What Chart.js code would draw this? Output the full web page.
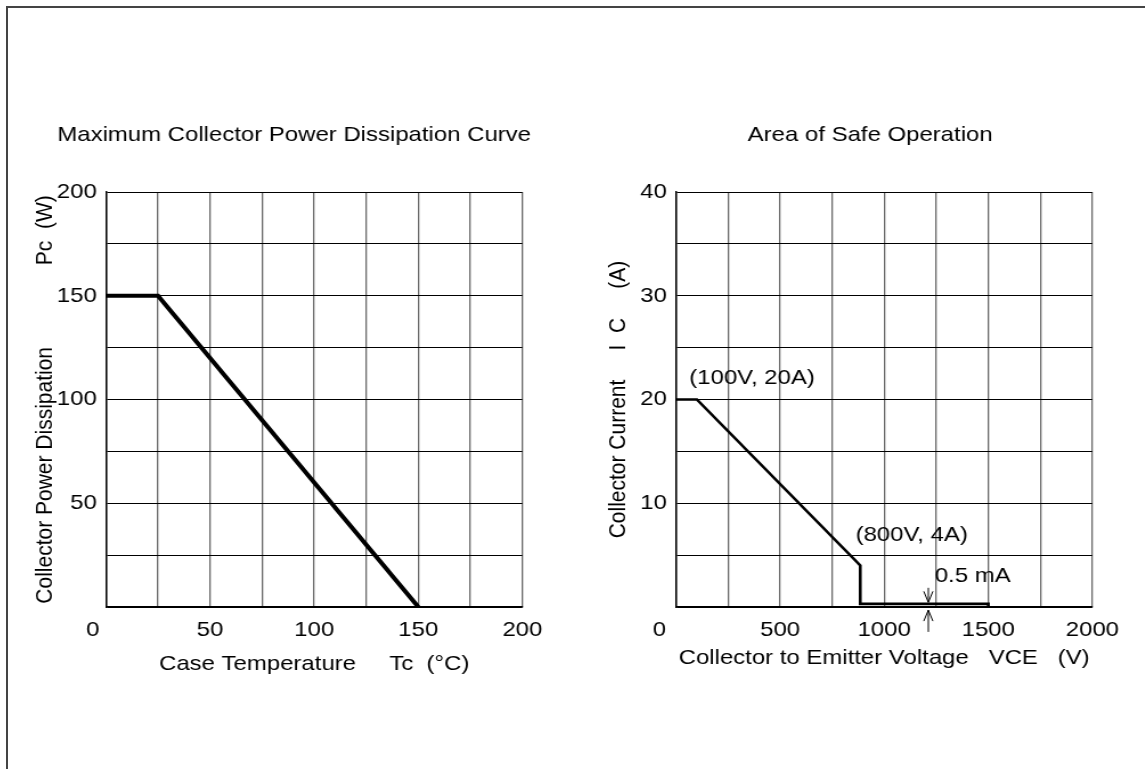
<!DOCTYPE html>
<html>
<head>
<meta charset="utf-8">
<title>Power Dissipation / Safe Operation</title>
<script src="https://cdn.jsdelivr.net/npm/chart.js@4.4.1/dist/chart.umd.min.js"></script>
<style>
    html, body { margin: 0; padding: 0; background: #fff; overflow: hidden; }
    body { width: 1145px; height: 769px; position: relative; }
    .moldura {
        position: absolute; left: 6px; top: 6px; right: -10px; bottom: -10px;
        border-left: 2px solid #444; border-top: 2px solid #444;
    }
    /* the source drawing is a little wider than tall, so both charts are stretched */
    .caixa { position: absolute; top: 100px; height: 600px; transform: scaleX(1.14); transform-origin: 0 0; }
    #caixaPc { left: 20px; width: 481px; }
    #caixaSoa { left: 600px; width: 474px; }
</style>
</head>
<body>
<div class="moldura"></div>
<div class="caixa" id="caixaPc"><canvas id="graficoPc"></canvas></div>
<div class="caixa" id="caixaSoa"><canvas id="graficoSoa"></canvas></div>
<script>
/* ==========================================================================
   1. DADOS
   ========================================================================== */
// Maximum collector power dissipation: case temperature (°C) -> Pc (W)
const pcTemp = [0, 25, 150];
const pcPower = [150, 150, 0];
const tempTickLabels = [0, 50, 100, 150, 200];
const powerTickLabels = [50, 100, 150, 200];

// Area of safe operation: VCE (V) -> IC (A)
const soaVolt = [0, 100, 885, 885, 1500, 1500];
const soaCurr = [20, 20, 4, 0.3, 0.3, 0];
const voltTickLabels = [0, 500, 1000, 1500, 2000];
const currTickLabels = [10, 20, 30, 40];

// notes written inside the safe-operation chart (value space)
const soaNotes = [
    { texto: '(100V, 20A)', v: 365, a: 22.1 },
    { texto: '(800V, 4A)', v: 1132, a: 6.9 },
    { texto: '0.5 mA', v: 1425, a: 3.0 }
];
const setaVolt = 1212; // where the 0.5 mA gap arrows sit

/* ==========================================================================
   2. ESTILO COMUM
   ========================================================================== */
Chart.defaults.font.family = '"Liberation Sans", Arial, sans-serif';
Chart.defaults.font.size = 21;
Chart.defaults.color = '#000';

const fonte = { size: 21, weight: 'normal' };

function rotulo(lista, espacosZero) {
    // the "0" on the x axis sits left of the axis in the source, so pad it
    return v => {
        if (!lista.includes(v)) return '';
        if (v === 0 && espacosZero) return '0' + ' '.repeat(espacosZero);
        return String(v);
    };
}

function opcoes(cfg) {
    return {
        responsive: true,
        maintainAspectRatio: false,
        animation: false,
        layout: { padding: 0 },
        plugins: {
            legend: { display: false },
            tooltip: { enabled: false },
            title: {
                display: true,
                text: cfg.titulo,
                color: '#000',
                font: fonte,
                padding: { top: 22.4, bottom: 44.4 }
            }
        },
        scales: {
            x: {
                type: 'linear', min: cfg.xMin, max: cfg.xMax,
                afterFit: s => { s.height = 93; },
                ticks: { stepSize: cfg.xPasso, autoSkip: false, maxRotation: 0, padding: 11, font: fonte,
                         callback: rotulo(cfg.xRotulos, cfg.espacosZero) },
                grid: { color: '#6a6a6a', lineWidth: 1.3, drawTicks: false },
                border: { color: '#000', width: 1.5 },
                title: { display: true, text: cfg.xTitulo, font: fonte, padding: { top: 0, bottom: cfg.xTituloPad } }
            },
            y: {
                type: 'linear', min: cfg.yMin, max: cfg.yMax,
                afterFit: s => { s.width = cfg.yLargura; },
                ticks: { stepSize: cfg.yPasso, autoSkip: false, padding: 8, font: fonte,
                         callback: rotulo(cfg.yRotulos, 0) },
                grid: { color: '#000', lineWidth: 1, drawTicks: false },
                border: { color: '#000', width: 1.5 },
                title: { display: true, text: cfg.yTitulo, font: fonte, padding: { top: cfg.yTituloPad, bottom: 0 } }
            },
            // empty axis on the right, only to keep the plot box where the source has it
            margem: {
                axis: 'y', position: 'right',
                afterFit: s => { s.width = cfg.margemDireita; },
                ticks: { display: false },
                grid: { display: false, drawTicks: false },
                border: { display: false }
            }
        }
    };
}

function serie(xs, ys, espessura) {
    return {
        data: xs.map((x, i) => ({ x: x, y: ys[i] })),
        showLine: true,
        borderColor: '#000',
        borderWidth: espessura,
        borderJoinStyle: 'miter',
        pointRadius: 0,
        fill: false
    };
}

/* ==========================================================================
   3. GRÁFICO DA ESQUERDA (Pc x Tc)
   ========================================================================== */
new Chart(document.getElementById('graficoPc'), {
    type: 'scatter',
    data: { datasets: [serie(pcTemp, pcPower, 4)] },
    options: opcoes({
        titulo: 'Maximum Collector Power Dissipation Curve',
        xMin: 0, xMax: 200, xPasso: 25, xRotulos: tempTickLabels, espacosZero: 4,
        xTitulo: 'Case Temperature     Tc  (°C)', xTituloPad: 23.4,
        yMin: 0, yMax: 200, yPasso: 25, yRotulos: powerTickLabels,
        yTitulo: 'Collector Power Dissipation              Pc  (W)', yTituloPad: 9.3,
        yLargura: 75.4, margemDireita: 40.3
    })
});

/* ==========================================================================
   4. GRÁFICO DA DIREITA (ÁREA DE OPERAÇÃO SEGURA)
   ========================================================================== */
const notasSoa = {
    id: 'notasSoa',
    afterDraw(chart) {
        const { ctx, scales } = chart;
        const px = v => scales.x.getPixelForValue(v);
        const py = a => scales.y.getPixelForValue(a);
        ctx.save();
        ctx.fillStyle = '#000';
        ctx.font = '21px "Liberation Sans", Arial, sans-serif';
        ctx.textAlign = 'center';
        ctx.textBaseline = 'middle';
        soaNotes.forEach(n => ctx.fillText(n.texto, px(n.v), py(n.a)));

        // the two little arrows marking the 0.5 mA gap
        const x = px(setaVolt);
        ctx.strokeStyle = '#000';
        ctx.lineWidth = 1;
        const seta = (cauda, ponta) => {
            const y0 = py(cauda), y1 = py(ponta);
            const d = y1 > y0 ? -11 : 11;
            ctx.beginPath();
            ctx.moveTo(x, y0); ctx.lineTo(x, y1);
            ctx.moveTo(x - 4, y1 + d); ctx.lineTo(x, y1); ctx.lineTo(x + 4, y1 + d);
            ctx.stroke();
        };
        seta(1.85, 0.45);
        seta(-2.4, -0.3);
        ctx.restore();
    }
};

new Chart(document.getElementById('graficoSoa'), {
    type: 'scatter',
    data: { datasets: [serie(soaVolt, soaCurr, 2.6)] },
    options: opcoes({
        titulo: 'Area of Safe Operation',
        xMin: 0, xMax: 2000, xPasso: 250, xRotulos: voltTickLabels, espacosZero: 5,
        xTitulo: 'Collector to Emitter Voltage   VCE   (V)', xTituloPad: 29.4,
        yMin: 0, yMax: 40, yPasso: 5, yRotulos: currTickLabels,
        yTitulo: 'Collector Current     I  C     (A)', yTituloPad: 4.1,
        yLargura: 66.7, margemDireita: 42.1
    }),
    plugins: [notasSoa]
});
</script>
</body>
</html>
